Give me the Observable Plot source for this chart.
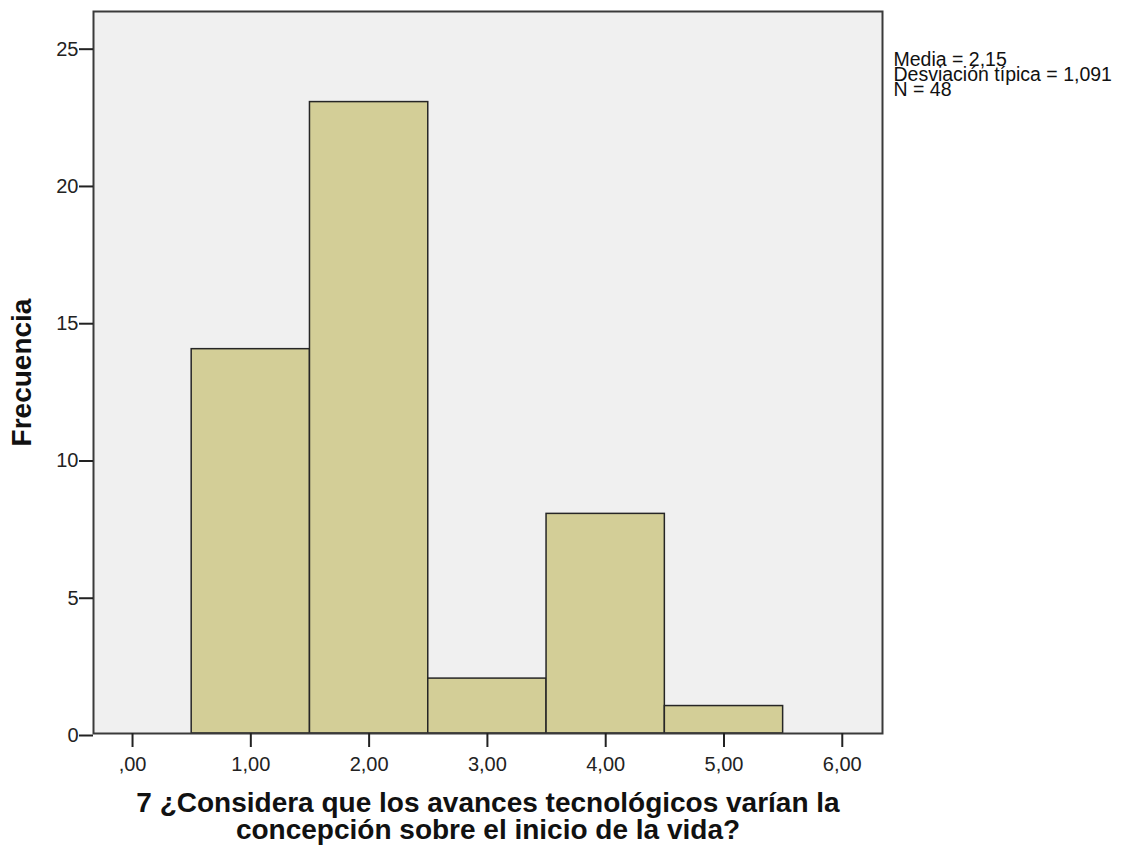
<!DOCTYPE html>
<html><head><meta charset="utf-8">
<script src="https://cdn.jsdelivr.net/npm/d3@7"></script>
<script src="https://cdn.jsdelivr.net/npm/@observablehq/plot@0.6"></script>
<style>
body{margin:0;background:#fff;}
svg{font-family:Arial,"Liberation Sans",sans-serif;}
</style>
</head><body>
<div id="chart"></div>
<script>
const values = [1, 2, 3, 4, 5];
const counts = [14, 23, 2, 8, 1];
const xTicks = [0, 1, 2, 3, 4, 5, 6];
const yTicks = [0, 5, 10, 15, 20, 25];
const statsLines = ["Media = 2,15", "Desviación típica = 1,091", "N = 48"];
const xLabel = "7 ¿Considera que los avances tecnológicos varían la\nconcepción sobre el inicio de la vida?";
const yLabel = "Frecuencia";

const bins = values.map((v, i) => ({x1: v - 0.5, x2: v + 0.5, n: counts[i]}));
const fmt = d => (d === 0 ? "" : String(d)) + ",00";

const plot = Plot.plot({
  width: 1128,
  height: 850,
  marginLeft: 93,
  marginRight: 246,
  marginTop: 11,
  marginBottom: 117,
  x: {domain: [-0.33, 6.34]},
  y: {domain: [0, 26.3]},
  style: {fontFamily: "Arial, 'Liberation Sans', sans-serif", background: "#fff"},
  marks: [
    Plot.frame({fill: "#f0f0f0"}),
    Plot.rectY(bins, {x1: "x1", x2: "x2", y: "n", fill: "#d3ce97", stroke: "#262626", strokeWidth: 1.5}),
    Plot.frame({stroke: "#3a3a3a", strokeWidth: 2}),
    Plot.axisY(yTicks, {tickSize: 14, tickPadding: 1, fontSize: 20, color: "#222", stroke: "#222", strokeWidth: 2, label: null, dy: 2}),
    Plot.axisX(xTicks, {tickSize: 14, tickFormat: fmt, fontSize: 20, color: "#222", stroke: "#222", strokeWidth: 2, tickPadding: 9, label: null}),
    Plot.text([xLabel], {frameAnchor: "bottom", dy: 59, fontSize: 28, fontWeight: "bold", fill: "#111", lineHeight: 0.98, lineAnchor: "top", textAnchor: "middle"}),
    Plot.text([yLabel], {frameAnchor: "left", dx: -71, rotate: -90, fontSize: 28, fontWeight: "bold", fill: "#111", textAnchor: "middle"}),
    Plot.text([statsLines.join("\n")], {frameAnchor: "top-right", dx: 11, dy: 44, textAnchor: "start", fontSize: 19.5, fill: "#111", lineHeight: 0.76, lineAnchor: "top"})
  ]
});
document.getElementById("chart").appendChild(plot);
</script>
</body></html>
